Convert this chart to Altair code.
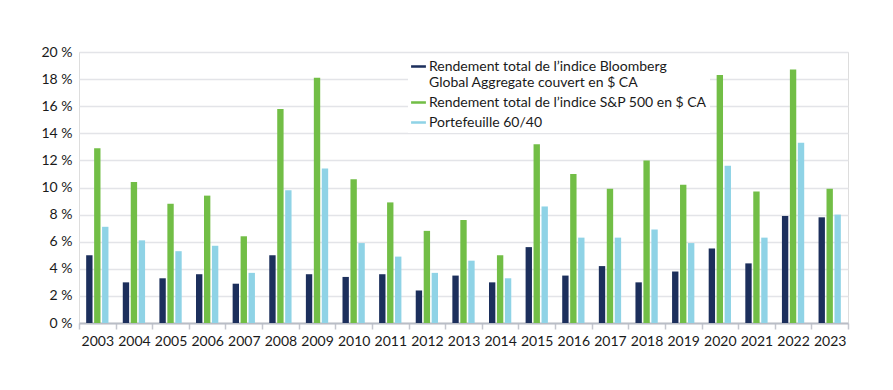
import altair as alt
import pandas as pd

years = [str(y) for y in range(2003, 2024)]

series_names = [
    "Rendement total de l’indice Bloomberg Global Aggregate couvert en $ CA",
    "Rendement total de l’indice S&P 500 en $ CA",
    "Portefeuille 60/40",
]
series_colors = ["#1c2f5c", "#72be46", "#8fd3e6"]

bloomberg = [5.0, 3.0, 3.3, 3.6, 2.9, 5.0, 3.6, 3.4, 3.6, 2.4, 3.5,
             3.0, 5.6, 3.5, 4.2, 3.0, 3.8, 5.5, 4.4, 7.9, 7.8]
sp500 = [12.9, 10.4, 8.8, 9.4, 6.4, 15.8, 18.1, 10.6, 8.9, 6.8, 7.6,
         5.0, 13.2, 11.0, 9.9, 12.0, 10.2, 18.3, 9.7, 18.7, 9.9]
portfolio = [7.1, 6.1, 5.3, 5.7, 3.7, 9.8, 11.4, 5.9, 4.9, 3.7, 4.6,
             3.3, 8.6, 6.3, 6.3, 6.9, 5.9, 11.6, 6.3, 13.3, 8.0]

rows = []
for name, vals in zip(series_names, [bloomberg, sp500, portfolio]):
    for y, v in zip(years, vals):
        rows.append({"Année": y, "Série": name, "Valeur": v})
df = pd.DataFrame(rows)

FONT = "Lato"
label_expr = (
    "datum.label == '" + series_names[0] + "' ? "
    "['Rendement total de l’indice Bloomberg', 'Global Aggregate couvert en $ CA'] : datum.label"
)

chart = alt.Chart(df).mark_bar().encode(
    x=alt.X("Année:N", title=None,
            scale=alt.Scale(paddingInner=0, paddingOuter=0),
            axis=alt.Axis(labelAngle=0, tickBand="extent", labelFontSize=14,
                          labelFont=FONT, labelColor="#1a1a1a", labelPadding=5,
                          domainColor="#b9bdc6", domainWidth=2,
                          tickColor="#c4c7cf", tickSize=6, tickWidth=1.5,
                          grid=False)),
    xOffset=alt.XOffset("Série:N", sort=series_names,
                        scale=alt.Scale(paddingInner=0.2, paddingOuter=0.9)),
    y=alt.Y("Valeur:Q", title=None,
            scale=alt.Scale(domain=[0, 20], nice=False),
            axis=alt.Axis(values=list(range(0, 21, 2)), labelExpr="datum.value + ' %'",
                          labelFontSize=14, labelFont=FONT, labelColor="#1a1a1a",
                          labelPadding=7, domain=False, ticks=False,
                          gridColor="#e3e4e8", gridWidth=1.5)),
    color=alt.Color("Série:N",
                    scale=alt.Scale(domain=series_names, range=series_colors),
                    legend=alt.Legend(title=None, orient="none", legendX=329, legendY=4,
                                      symbolType="M-1,-0.17L1,-0.17L1,0.17L-1,0.17Z",
                                      symbolSize=220, symbolStrokeWidth=0,
                                      labelFontSize=14, labelFont=FONT,
                                      labelColor="#1a1a1a", labelLimit=500,
                                      labelExpr=label_expr, fillColor="white",
                                      padding=3, rowPadding=5, labelOffset=3)),
).properties(
    width=769, height=271,
    autosize=alt.AutoSizeParams(type="none"),
    padding={"left": 71, "top": 44, "right": 10, "bottom": 50},
).configure_view(stroke=None).configure(background="white")

chart.save("out.html", embed_options={"renderer": "svg", "actions": False})
